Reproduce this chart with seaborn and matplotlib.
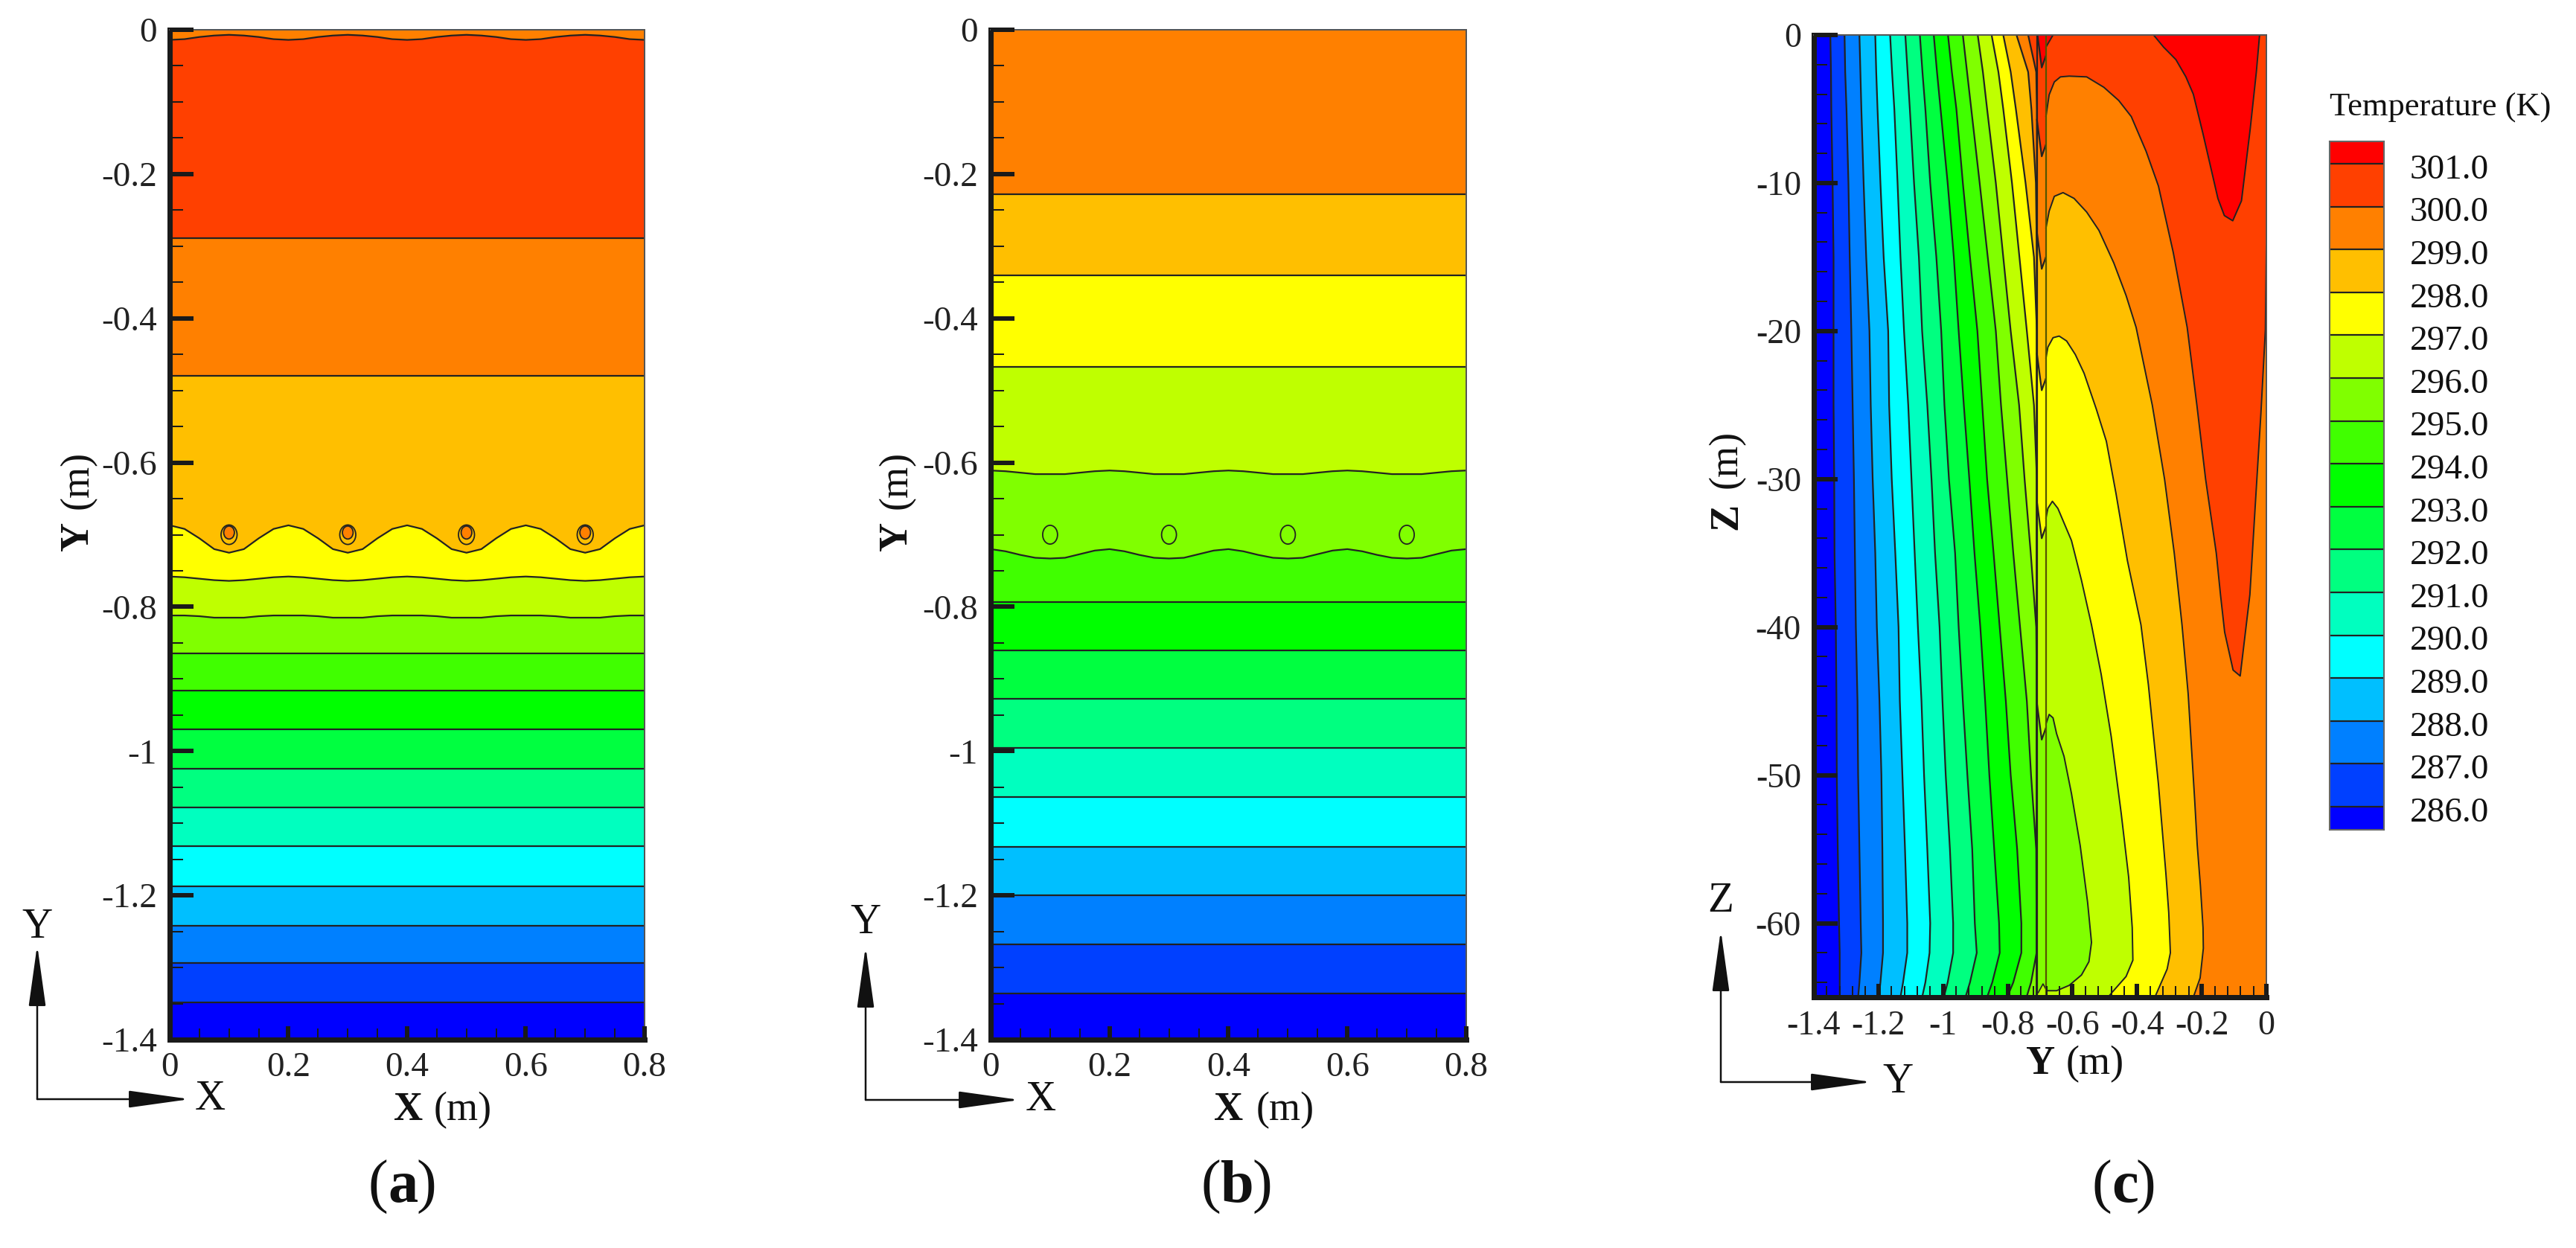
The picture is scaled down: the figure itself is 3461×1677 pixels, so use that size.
import numpy as np
import matplotlib
matplotlib.use('Agg')
import matplotlib.pyplot as plt
from matplotlib.patches import Ellipse
import seaborn as sns

W, H = 3462, 1677

# band colours, coldest to hottest
band_colours = ['#0000ff', '#0040ff', '#0080ff', '#00bfff', '#00ffff', '#00ffbf', '#00ff80', '#00ff40',
                '#00ff00', '#40ff00', '#80ff00', '#bfff00', '#ffff00', '#ffbf00', '#ff8000', '#ff4000', '#ff0000']
legend_levels = [286, 287, 288, 289, 290, 291, 292, 293, 294, 295, 296, 297, 298, 299, 300, 301]

# (a) and (b): isotherm depth at these x stations, one wave period repeated per pipe
x_stations = [0, .025, .05, .075, .1, .125, .15, .175, .2, .225, .25, .275, .3, .325, .35, .375, .4,
              .425, .45, .475, .5, .525, .55, .575, .6, .625, .65, .675, .7, .725, .75, .775, .8]
pipe_x = [0.1, 0.3, 0.5, 0.7]
pipe_y = -0.70

a_flat = [-1.348, -1.294, -1.242, -1.187, -1.132, -1.078, -1.024, -0.970, -0.916, -0.865]
a_wave_296 = [-0.812, -0.812, -0.813, -0.815, -0.815, -0.815, -0.813, -0.812]
a_wave_297 = [-0.758, -0.759, -0.761, -0.763, -0.764, -0.763, -0.761, -0.759]
a_wave_298 = [-0.687, -0.692, -0.705, -0.720, -0.725, -0.720, -0.705, -0.692]
a_upper = [-0.480, -0.289]
a_wave_301 = [-0.014, -0.013, -0.010, -0.008, -0.007, -0.008, -0.010, -0.013]

b_flat = [-1.336, -1.268, -1.200, -1.133, -1.064, -0.996, -0.928, -0.860, -0.793]
b_wave_295 = [-0.720, -0.723, -0.728, -0.732, -0.733, -0.732, -0.727, -0.722]
b_wave_296 = [-0.611, -0.612, -0.614, -0.616, -0.616, -0.616, -0.614, -0.612]
b_upper = [-0.467, -0.340, -0.228]

# (c): left of the wall, isotherm Y position at these Z stations
z_stations = [0, -2.5, -5, -10, -15, -20, -25, -30, -35, -40, -45, -50, -55, -60, -62, -64, -65]
wall_left, wall_right = -0.71, -0.682
c_left = [
    [-1.349, -1.347, -1.346, -1.342, -1.339, -1.339, -1.339, -1.337, -1.336, -1.332, -1.330, -1.329, -1.326, -1.322, -1.320, -1.320, -1.320],
    [-1.305, -1.303, -1.299, -1.293, -1.289, -1.284, -1.280, -1.276, -1.273, -1.270, -1.265, -1.263, -1.259, -1.255, -1.253, -1.259, -1.263],
    [-1.259, -1.256, -1.253, -1.246, -1.238, -1.228, -1.224, -1.218, -1.210, -1.205, -1.197, -1.191, -1.188, -1.186, -1.186, -1.194, -1.199],
    [-1.210, -1.207, -1.203, -1.194, -1.184, -1.170, -1.167, -1.159, -1.148, -1.138, -1.134, -1.126, -1.118, -1.111, -1.111, -1.124, -1.132],
    [-1.164, -1.158, -1.151, -1.141, -1.132, -1.121, -1.108, -1.098, -1.088, -1.078, -1.067, -1.059, -1.049, -1.040, -1.042, -1.055, -1.065],
    [-1.117, -1.110, -1.103, -1.090, -1.075, -1.065, -1.049, -1.036, -1.025, -1.011, -1.002, -0.992, -0.979, -0.969, -0.969, -0.986, -0.998],
    [-1.072, -1.064, -1.055, -1.040, -1.021, -1.006, -0.996, -0.982, -0.963, -0.952, -0.939, -0.925, -0.910, -0.902, -0.896, -0.917, -0.931],
    [-1.029, -1.019, -1.008, -0.986, -0.967, -0.952, -0.936, -0.919, -0.903, -0.885, -0.870, -0.857, -0.842, -0.827, -0.825, -0.848, -0.864],
    [-0.985, -0.973, -0.959, -0.939, -0.917, -0.894, -0.879, -0.864, -0.844, -0.825, -0.806, -0.791, -0.771, -0.758, -0.758, -0.783, -0.802],
    [-0.939, -0.926, -0.913, -0.887, -0.862, -0.837, -0.821, -0.802, -0.783, -0.762, -0.741, -0.728, -0.712, -0.711, -0.711, -0.728, -0.742],
    [-0.893, -0.877, -0.864, -0.837, -0.814, -0.791, -0.765, -0.748, -0.729, -0.712] + [wall_left] * 7,
    [-0.850, -0.829, -0.814, -0.787, -0.764, -0.741, -0.719] + [wall_left] * 10,
    [-0.814, -0.791, -0.775, -0.745, -0.719] + [wall_left] * 12,
    [-0.773, -0.737, -0.727, -0.713] + [wall_left] * 13,
    [-0.737, -0.712] + [wall_left] * 15,
]

# spikes inside the wall strip: Z of each tip
strip_tip_x = -0.695
strip_tip_z = [-47.6, -34.0, -24.0, -15.8, -8.2, -2.2]
strip_arc_x = [-0.706, -0.691, -0.681]
strip_arc_z = [-64.7, -64.1, -64.5]

# right of the wall: closed isotherms, read point by point
region_300_x = [-0.682, -0.672, -0.656, -0.637, -0.610, -0.556, -0.503, -0.457, -0.418, -0.372, -0.334, -0.288, -0.245,
                -0.215, -0.188, -0.155, -0.142, -0.129, -0.103, -0.081, -0.051, -0.035, -0.017, -0.003, 0]
region_300_z = [-5.51, -4.04, -3.17, -2.83, -2.78, -2.83, -3.53, -4.42, -5.51, -7.86, -10.2, -14.7, -19.75,
                -25, -30, -35, -37.8, -40.35, -42.9, -43.3, -37.8, -32, -25.6, -19.9, -14]
region_301_x = [-0.349, -0.318, -0.280, -0.249, -0.226, -0.196, -0.150, -0.130, -0.104, -0.077, -0.050, -0.031, -0.021]
region_301_z = [0, -0.82, -1.66, -2.83, -4.0, -6.68, -11.04, -12.2, -12.55, -11.2, -6.35, -2.5, 0]
corner_301_x = [-0.682, -0.660]
corner_301_z = [-0.82, 0]
arch_299_x = [-0.682, -0.672, -0.656, -0.629, -0.595, -0.556, -0.518, -0.472, -0.434, -0.403, -0.353, -0.315, -0.285,
              -0.261, -0.242, -0.222, -0.214, -0.204, -0.196, -0.195, -0.205, -0.226]
arch_299_z = [-13.05, -11.9, -10.9, -10.65, -11.04, -11.96, -13.2, -15.4, -17.6, -19.75, -25, -30, -35,
              -39.85, -44.5, -51.6, -54.7, -57.5, -60.3, -61.7, -63.7, -65]
arch_298_x = [-0.682, -0.676, -0.660, -0.641, -0.618, -0.591, -0.564, -0.526, -0.495, -0.465, -0.430, -0.388,
              -0.365, -0.334, -0.311, -0.302, -0.297, -0.307, -0.345]
arch_298_z = [-21.84, -21.09, -20.45, -20.34, -20.67, -21.59, -22.85, -25.28, -27.45, -31, -35.5, -39.85,
              -43.9, -50.6, -56.6, -59.3, -62, -63.1, -65]
arch_297_x = [-0.682, -0.676, -0.662, -0.645, -0.603, -0.572, -0.541, -0.511, -0.480, -0.449, -0.426, -0.415, -0.413,
              -0.434, -0.476, -0.490]
arch_297_z = [-32.65, -31.98, -31.5, -31.98, -34.15, -36.84, -39.85, -43.2, -47.4, -52.6, -56.9, -60.3, -62.5,
              -63.6, -64.64, -65]
blob_296_x = [-0.682, -0.672, -0.660, -0.649, -0.626, -0.603, -0.576, -0.553, -0.541, -0.549, -0.572, -0.610, -0.649, -0.682]
blob_296_z = [-46.55, -45.9, -46.13, -47.2, -48.73, -51.24, -54.76, -58.6, -61.3, -62.6, -63.5, -64.2, -64.56, -64.56]

y_ticks = [0, -0.2, -0.4, -0.6, -0.8, -1, -1.2, -1.4]
y_tick_labels = ['0', '-0.2', '-0.4', '-0.6', '-0.8', '-1', '-1.2', '-1.4']
x_ticks = [0, 0.2, 0.4, 0.6, 0.8]
x_tick_labels = ['0', '0.2', '0.4', '0.6', '0.8']
c_x_ticks = [-1.4, -1.2, -1, -0.8, -0.6, -0.4, -0.2, 0]
c_x_tick_labels = ['-1.4', '-1.2', '-1', '-0.8', '-0.6', '-0.4', '-0.2', '0']
c_y_ticks = [0, -10, -20, -30, -40, -50, -60]
c_y_tick_labels = ['0', '-10', '-20', '-30', '-40', '-50', '-60']

sns.set_theme(style='ticks')
plt.rcParams['font.family'] = ['Liberation Serif', 'DejaVu Sans']
LINE = '#222222'
PX = 0.72  # one image pixel in points at dpi 100


def box(x0, y0, x1, y1):
    return [x0 / W, 1 - y1 / H, (x1 - x0) / W, (y1 - y0) / H]


def txt(x, y, s, size, **kw):
    fig.text(x / W, 1 - y / H, s, fontsize=size, color='#111111', **kw)


def iso(ax, x, y, lw=1.6):
    sns.lineplot(x=x, y=y, ax=ax, color=LINE, lw=lw, sort=False, estimator=None, errorbar=None)


def dress(ax, xt, xl, yt, yl, xminor, yminor):
    ax.set_xticks(xt, xl)
    ax.set_yticks(yt, yl)
    ax.set_xticks(xminor, minor=True)
    ax.set_yticks(yminor, minor=True)
    ax.tick_params(axis='y', which='major', direction='in', length=32 * PX, width=6 * PX, labelsize=34, pad=17 * PX, color='k', labelcolor='#222222')
    ax.tick_params(axis='y', which='minor', direction='in', length=18 * PX, width=2 * PX, color='k')
    ax.tick_params(axis='x', which='major', direction='in', length=18 * PX, width=6 * PX, labelsize=34, pad=17 * PX, color='k', labelcolor='#222222')
    ax.tick_params(axis='x', which='minor', direction='in', length=15 * PX, width=2 * PX, color='k')
    ax.set_xlabel('')
    ax.set_ylabel('')
    for side in ['left', 'bottom']:
        ax.spines[side].set_linewidth(7 * PX)
        ax.spines[side].set_color('k')
    for side in ['top', 'right']:
        ax.spines[side].set_linewidth(2 * PX)
        ax.spines[side].set_color('#555555')
    ax.set_axisbelow(False)


def triad(x0, y0, x1, y1, up, right, up_y, right_x):
    head = '-|>,head_length=4.3,head_width=0.6'
    for tip in [(x0, y1), (x1, y0)]:
        ax0.annotate('', xy=(tip[0] / W, 1 - tip[1] / H), xytext=(x0 / W, 1 - y0 / H),
                     xycoords='figure fraction', textcoords='figure fraction',
                     arrowprops=dict(arrowstyle=head, lw=1.8, color='#111111', shrinkA=0, shrinkB=0))
    txt(x0, up_y, up, 41, ha='center', va='center')
    txt(right_x, y0, right, 41, ha='center', va='center')


def bands(ax, lines, colours):
    # painter's order: top band first, each isotherm then fills everything below it
    x = np.array(x_stations)
    ax.fill_between(x, 0, -1.4, color=colours[-1], lw=0)
    for line, col in zip(lines[::-1], colours[-2::-1]):
        ax.fill_between(x, -1.4, line, color=col, lw=0)
    for line in lines:
        iso(ax, x, line)
    ax.set_xlim(0, 0.8)
    ax.set_ylim(-1.4, 0)


fig = plt.figure(figsize=(W / 100, H / 100), dpi=100, facecolor='white')
ax0 = fig.add_axes([0, 0, 1, 1])
ax0.axis('off')

# panel (a)
ax_a = fig.add_axes(box(228, 40, 866, 1397))
lines_a = [[v] * 33 for v in a_flat] + [a_wave_296 * 4 + a_wave_296[:1], a_wave_297 * 4 + a_wave_297[:1],
                                        a_wave_298 * 4 + a_wave_298[:1]] + [[v] * 33 for v in a_upper] + [a_wave_301 * 4 + a_wave_301[:1]]
bands(ax_a, lines_a, band_colours[:16] + [band_colours[14]])
for px in pipe_x:
    ax_a.add_patch(Ellipse((px, pipe_y), 0.027, 0.027, fc='none', ec=LINE, lw=1.3))
    ax_a.add_patch(Ellipse((px, pipe_y + 0.003), 0.018, 0.018, fc=band_colours[14], ec=LINE, lw=1.3))
dress(ax_a, x_ticks, x_tick_labels, y_ticks, y_tick_labels, np.arange(0, 0.81, 0.05), np.arange(-1.4, 0.01, 0.05))

# panel (b)
ax_b = fig.add_axes(box(1331, 40, 1970, 1397))
lines_b = [[v] * 33 for v in b_flat] + [b_wave_295 * 4 + b_wave_295[:1], b_wave_296 * 4 + b_wave_296[:1]] + [[v] * 33 for v in b_upper]
bands(ax_b, lines_b, band_colours[:15])
for px in pipe_x:
    ax_b.add_patch(Ellipse((px, pipe_y), 0.025, 0.026, fc='none', ec=LINE, lw=1.3))
dress(ax_b, x_ticks, x_tick_labels, y_ticks, y_tick_labels, np.arange(0, 0.81, 0.05), np.arange(-1.4, 0.01, 0.05))

# panel (c)
ax_c = fig.add_axes(box(2437, 47, 3045, 1340))
ax_c.fill_betweenx([0, -65], -1.4, wall_left, color=band_colours[15], lw=0)
for line, col in zip(c_left[::-1], band_colours[14::-1]):
    ax_c.fill_betweenx(z_stations, -1.4, line, color=col, lw=0)
for line in c_left:
    iso(ax_c, line, z_stations)

# wall strip, coolest spike first
ax_c.fill_betweenx([0, -65], wall_left, wall_right, color=band_colours[10], lw=0)
ax_c.fill(strip_arc_x + [wall_right, wall_left], strip_arc_z + [-65, -65], color=band_colours[11], lw=0)
for tip, col in zip(strip_tip_z, band_colours[11:]):
    sx = [wall_left, wall_left, strip_tip_x, wall_right, wall_right]
    sz = [0, tip + 2.5, tip, tip + 0.8, 0]
    ax_c.fill(sx, sz, color=col, lw=0)
    iso(ax_c, sx[1:4], sz[1:4])
iso(ax_c, strip_arc_x, strip_arc_z, lw=1.2)

# right of the wall, outermost region first
ax_c.fill_betweenx([0, -65], wall_right, 0, color=band_colours[14], lw=0)
ax_c.fill(region_300_x + [0, wall_right], region_300_z + [0, 0], color=band_colours[15], lw=0)
ax_c.fill(region_301_x, region_301_z, color=band_colours[16], lw=0)
ax_c.fill(corner_301_x + [wall_right], corner_301_z + [0], color=band_colours[16], lw=0)
ax_c.fill(arch_299_x + [wall_right], arch_299_z + [-65], color=band_colours[13], lw=0)
ax_c.fill(arch_298_x + [wall_right], arch_298_z + [-65], color=band_colours[12], lw=0)
ax_c.fill(arch_297_x + [wall_right], arch_297_z + [-65], color=band_colours[11], lw=0)
ax_c.fill(blob_296_x, blob_296_z, color=band_colours[10], lw=0)
for lx, lz in [(region_300_x, region_300_z), (region_301_x, region_301_z), (corner_301_x, corner_301_z),
               (arch_299_x, arch_299_z), (arch_298_x, arch_298_z), (arch_297_x, arch_297_z), (blob_296_x, blob_296_z)]:
    iso(ax_c, lx, lz, lw=1.4)
ax_c.axvline(wall_left, color=LINE, lw=1.6)
ax_c.axvline(wall_right, color='#555500', lw=1.6)
ax_c.set_xlim(-1.4, 0)
ax_c.set_ylim(-65, 0)
dress(ax_c, c_x_ticks, c_x_tick_labels, c_y_ticks, c_y_tick_labels, np.arange(-1.4, 0.01, 0.04), np.arange(-64, 0.01, 2))
ax_c.tick_params(axis='x', labelsize=33)
ax_c.tick_params(axis='y', labelsize=33)

# legend
ax_l = fig.add_axes(box(3130, 190, 3203, 1115))
edges = [285.46] + legend_levels + [301.52]
for i, col in enumerate(band_colours):
    ax_l.fill_between([0, 1], edges[i], edges[i + 1], color=col, lw=0)
for lev in legend_levels:
    ax_l.axhline(lev, color=LINE, lw=1.6)
    ax_l.text(1.48, lev - 0.15, f'{lev:.1f}', fontsize=34, color='#111111', va='center', ha='left', transform=ax_l.get_yaxis_transform())
ax_l.set_xlim(0, 1)
ax_l.set_ylim(285.46, 301.52)
ax_l.set_xticks([])
ax_l.set_yticks([])
for s in ax_l.spines.values():
    s.set_linewidth(1.5)
    s.set_color('#666666')
txt(3130, 145, 'Temperature (K)', 32, ha='left', va='center')

# axis titles, bold letter plus plain unit
txt(529, 1505, 'X', 39, weight='bold', ha='left', va='baseline')
txt(583, 1505, '(m)', 39, ha='left', va='baseline')
txt(1631, 1505, 'X', 39, weight='bold', ha='left', va='baseline')
txt(1688, 1505, '(m)', 39, ha='left', va='baseline')
txt(2722, 1443, 'Y', 39, weight='bold', ha='left', va='baseline')
txt(2776, 1443, '(m)', 39, ha='left', va='baseline')
for bx, letter, y0, y1 in [(118, 'Y', 740, 684), (1218, 'Y', 740, 684), (2333, 'Z', 712, 656)]:
    txt(bx, y0, letter, 39, weight='bold', rotation=90, rotation_mode='anchor', ha='left', va='baseline')
    txt(bx, y1, '(m)', 39, rotation=90, rotation_mode='anchor', ha='left', va='baseline')

# panel letters
for cx, letter, close in [(495, 'a', 64), (1614, 'b', 68), (2811, 'c', 58)]:
    txt(cx, 1615, '(', 58, ha='left', va='baseline')
    txt(cx + 26, 1615, letter, 58, weight='bold', ha='left', va='baseline')
    txt(cx + close, 1615, ')', 58, ha='left', va='baseline')

triad(50, 1477, 255, 1270, 'Y', 'X', 1246, 282)
triad(1163, 1478, 1370, 1272, 'Y', 'X', 1240, 1398)
triad(2312, 1454, 2515, 1250, 'Z', 'Y', 1211, 2550)

fig.savefig('out.png', dpi=100, facecolor='white')
